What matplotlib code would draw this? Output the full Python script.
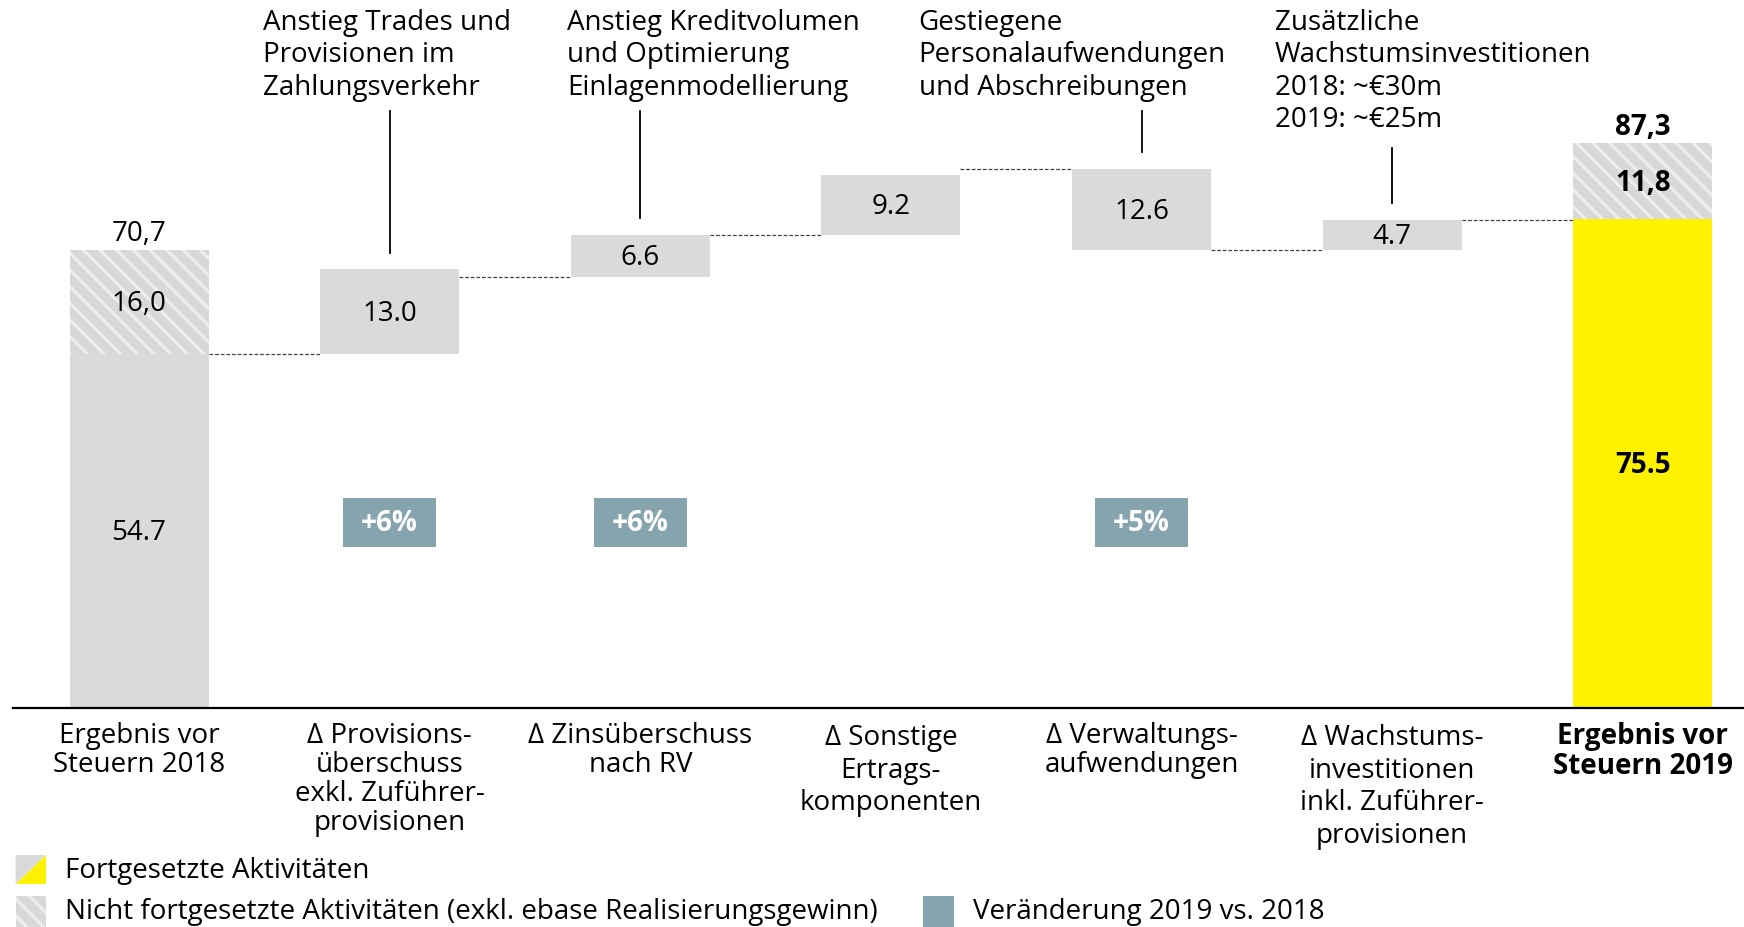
#! /usr/bin/env python3

"""Waterfall chart: Ergebnis vor Steuern 2018 -> 2019."""

import matplotlib.pyplot as plt
from matplotlib.patches import Rectangle, Polygon
from matplotlib.transforms import blended_transform_factory

plt.rcParams["font.family"] = ["Open Sans", "DejaVu Sans"]
plt.rcParams["hatch.linewidth"] = 2.2

# data
categories = [
    "Ergebnis vor\nSteuern 2018",
    "Δ Provisions-\nüberschuss\nexkl. Zuführer-\nprovisionen",
    "Δ Zinsüberschuss\nnach RV",
    "Δ Sonstige\nErtrags-\nkomponenten",
    "Δ Verwaltungs-\naufwendungen",
    "Δ Wachstums-\ninvestitionen\ninkl. Zuführer-\nprovisionen",
    "Ergebnis vor\nSteuern 2019",
]
start_continued = 54.7
start_discontinued = 16.0
start_labels = ["54.7", "16,0", "70,7"]
deltas = [13.0, 6.6, 9.2, -12.6, 4.7]
delta_bottoms = [54.7, 66.5, 73.1, 70.7, 70.7]  # lower edge of each step, as drawn
delta_labels = ["13.0", "6.6", "9.2", "12.6", "4.7"]
end_continued = 75.5
end_discontinued = 11.8
end_labels = ["75.5", "11,8", "87,3"]
changes = ["+6%", "+6%", None, "+5%", None]
annotations = [
    "Anstieg Trades und\nProvisionen im\nZahlungsverkehr",
    "Anstieg Kreditvolumen\nund Optimierung\nEinlagenmodellierung",
    None,
    "Gestiegene\nPersonalaufwendungen\nund Abschreibungen",
    "Zusätzliche\nWachstumsinvestitionen\n2018: ~€30m\n2019: ~€25m",
]
legend_labels = [
    "Fortgesetzte Aktivitäten",
    "Nicht fortgesetzte Aktivitäten (exkl. ebase Realisierungsgewinn)",
    "Veränderung 2019 vs. 2018",
]

# styles
GREY = "#dadada"
HATCH_BG = "#d8d8d8"
HATCH_FG = "#eeeeee"
YELLOW = "#fff200"
TEAL = "#86a4ae"
FS = 20
W = 0.555
DY = -0.4  # small downward nudge for labels inside bars

W_PX, H_PX = 1744, 927
fig = plt.figure(figsize=(W_PX / 100, H_PX / 100), dpi=100)
ax = fig.add_axes([13 / W_PX, (H_PX - 707.5) / H_PX, 1 - 13 / W_PX, 707.5 / H_PX])
pix = fig.add_axes([0, 0, 1, 1], zorder=-1)
pix.set_xlim(0, W_PX)
pix.set_ylim(H_PX, 0)
pix.axis("off")

ax.set_xlim(-0.503, 6.404)
ax.set_ylim(0, 707.5 / 6.47)
for s in ["top", "right", "left"]:
    ax.spines[s].set_visible(False)
ax.spines["bottom"].set_linewidth(1.6)
ax.set_xticks([])
ax.set_yticks([])
ax.patch.set_alpha(0)


def connector(x0, x1, y):
    ax.plot([x0 + W / 2, x1 - W / 2], [y, y], color="#444444", lw=0.9,
            ls=(0, (3, 1.5)))


# start bar
ax.bar(0, start_continued, width=W, color=GREY, linewidth=0)
ax.bar(0, start_discontinued, bottom=start_continued, width=W, color=HATCH_BG,
       hatch="\\\\", edgecolor=HATCH_FG, linewidth=0)
start_total = start_continued + start_discontinued
ax.text(0, start_continued / 2 + DY, start_labels[0], ha="center", va="center",
        fontsize=FS)
ax.text(0, start_continued + start_discontinued / 2 + DY, start_labels[1],
        ha="center", va="center", fontsize=FS)
ax.text(0, start_total + 2.5, start_labels[2], ha="center", va="center", fontsize=FS)

# delta bars
prev_level = start_continued
for i, d in enumerate(deltas):
    x = i + 1
    lo = delta_bottoms[i]
    hi = lo + abs(d)
    ax.bar(x, abs(d), bottom=lo, width=W, color=GREY, linewidth=0)
    ax.text(x, lo + abs(d) / 2 + DY, delta_labels[i], ha="center", va="center",
            fontsize=FS)
    start_level = lo if d > 0 else hi
    connector(x - 1, x, start_level)
    prev_level = hi if d > 0 else lo
    if changes[i]:
        ax.add_patch(Rectangle((x - 0.185, 24.8), 0.37, 7.6, color=TEAL, linewidth=0))
        ax.text(x, 28.5, changes[i], ha="center", va="center", fontsize=FS,
                color="white", fontweight="bold")
    if annotations[i]:
        y_end = 92.2 if i != 4 else 86.5
        ax.plot([x, x], [hi + 2.5, y_end], color="black", lw=1.3)

connector(5, 6, prev_level)

# end bar
ax.bar(6, end_continued, width=W, color=YELLOW, linewidth=0)
ax.bar(6, end_discontinued, bottom=end_continued, width=W, color=HATCH_BG,
       hatch="\\\\", edgecolor=HATCH_FG, linewidth=0)
end_total = end_continued + end_discontinued
ax.text(6, end_continued / 2 + DY, end_labels[0], ha="center", va="center",
        fontsize=FS, fontweight="bold")
ax.text(6, end_continued + end_discontinued / 2 + DY, end_labels[1], ha="center",
        va="center", fontsize=FS, fontweight="bold")
ax.text(6, end_total + 2.4, end_labels[2], ha="center", va="center", fontsize=FS,
        fontweight="bold")

# category labels under the axis
trans = blended_transform_factory(ax.transData, pix.transData)
for i, cat in enumerate(categories):
    spaced = i in (3, 5)
    ax.text(i, 722 if not spaced else 724, cat, transform=trans, ha="center",
            va="top", fontsize=FS, linespacing=1.04 if not spaced else 1.22,
            fontweight="bold" if i == 6 else "normal", clip_on=False)

# annotation texts
ann_x = [262.5, 567, None, 918.7, 1274.6]
for i, txt in enumerate(annotations):
    if txt:
        pix.text(ann_x[i], 9, txt, ha="left", va="top", fontsize=FS, linespacing=1.21)

# legend
pix.add_patch(Polygon([(15.6, 855), (45.6, 855), (15.6, 884)], closed=True,
                      color=GREY, linewidth=0))
pix.add_patch(Polygon([(45.6, 855), (45.6, 884), (15.6, 884)], closed=True,
                      color=YELLOW, linewidth=0))
pix.text(64.5, 878, legend_labels[0], ha="left", va="baseline", fontsize=FS)
pix.add_patch(Rectangle((15.6, 896), 30, 31, facecolor=HATCH_BG, hatch="\\\\",
                        edgecolor=HATCH_FG, linewidth=0))
pix.text(64.5, 919.5, legend_labels[1], ha="left", va="baseline", fontsize=FS)
pix.add_patch(Rectangle((923, 896), 31, 31, color=TEAL, linewidth=0))
pix.text(973, 919.5, legend_labels[2], ha="left", va="baseline", fontsize=FS)

fig.savefig("out.png", dpi=100)
